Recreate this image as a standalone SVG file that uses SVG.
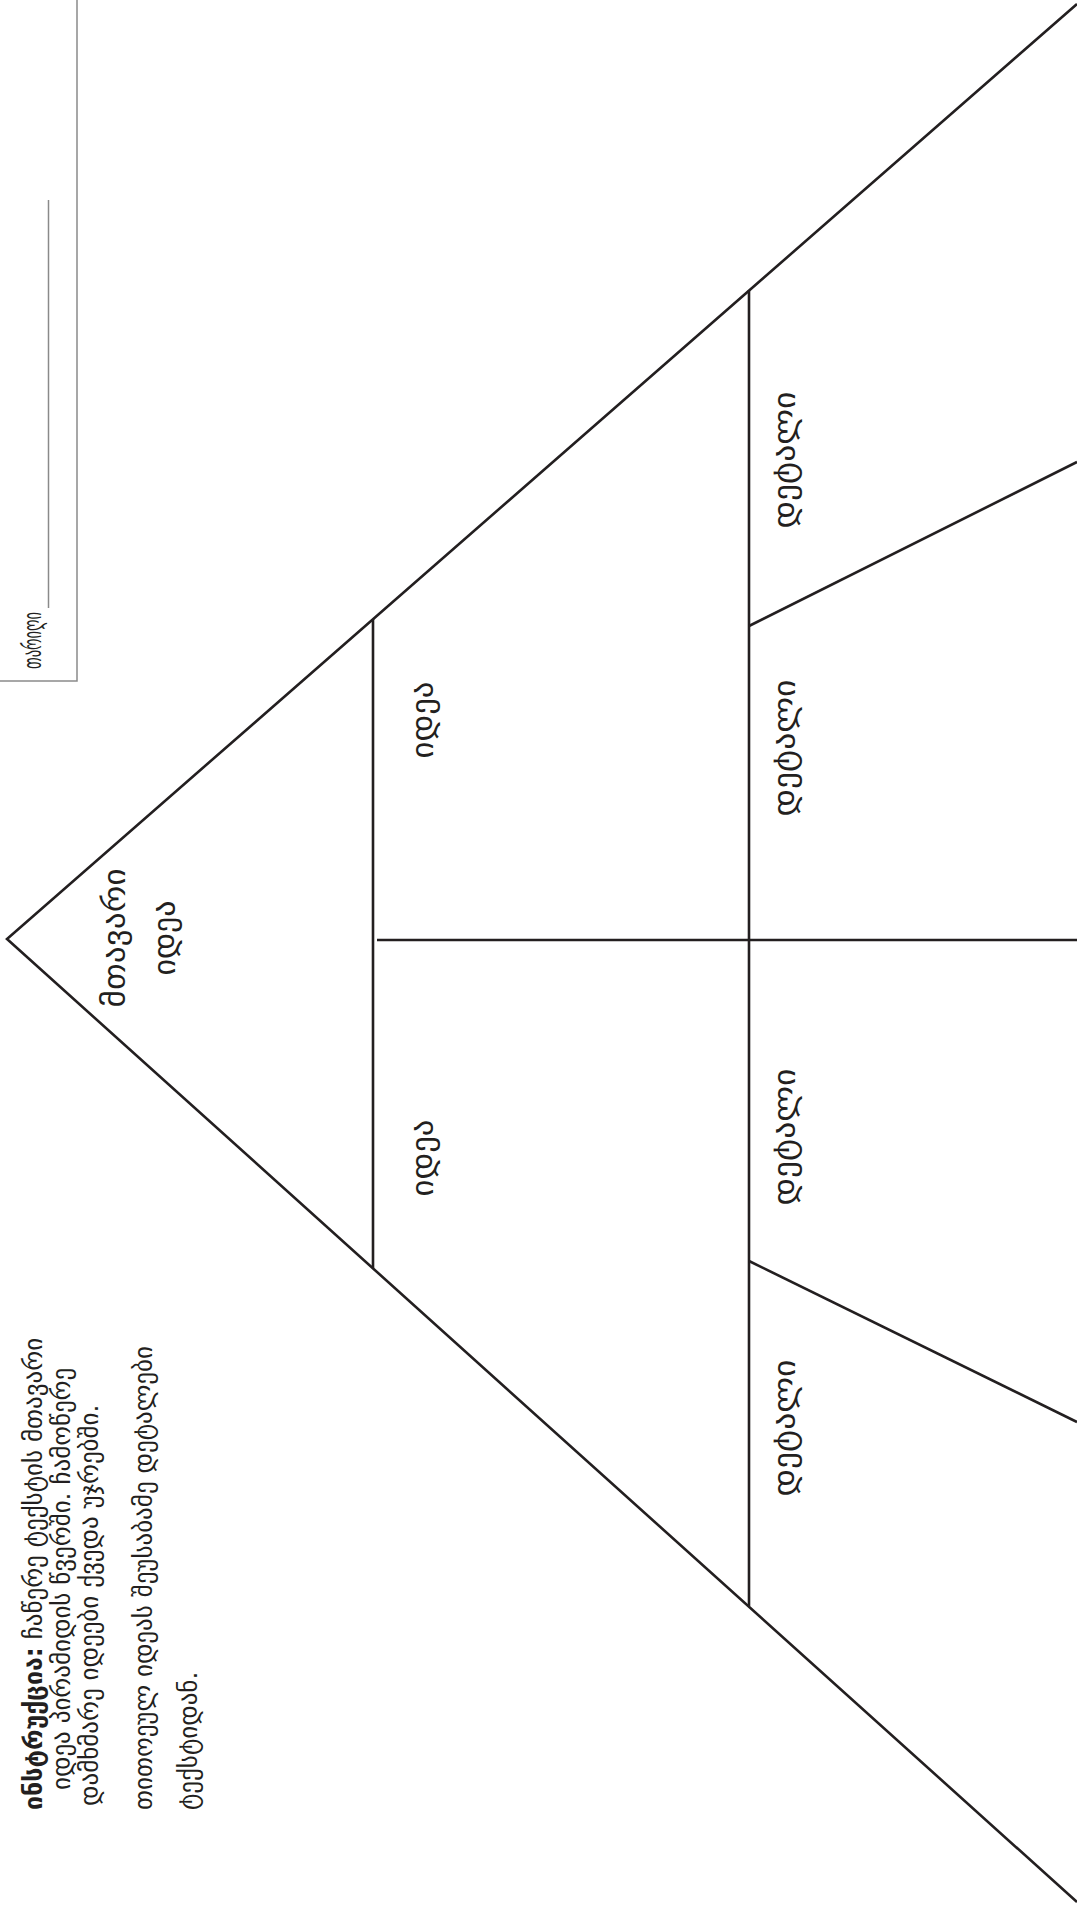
<svg xmlns="http://www.w3.org/2000/svg" width="1077" height="1905" viewBox="0 0 1077 1905">
<style>
.ln{stroke:#231f20;stroke-width:2.6;fill:none}
.box{stroke:#8a8a8a;stroke-width:1.5;fill:none}
.t{font-family:"DejaVu Sans",sans-serif;fill:#231f20}
.lbl{font-size:31px;text-anchor:middle}
.ins{font-size:25px}
</style>
<rect width="1077" height="1905" fill="#ffffff"/>
<g id="date-box">
<path class="box" d="M0,681 H77 V0"/>
<line x1="48.5" y1="200" x2="48.5" y2="608" stroke="#8a8a8a" stroke-width="1.5"/>
<text class="t" font-size="26" textLength="57" lengthAdjust="spacingAndGlyphs" transform="translate(41,669) rotate(-90)">თარიღი</text>
</g>
<g id="instructions" class="t ins">
<text transform="translate(42,1810) rotate(-90)"><tspan font-weight="bold">ინსტრუქცია:</tspan> ჩაწერე ტექსტის მთავარი</text>
<text transform="translate(70,1790) rotate(-90)">იდეა პირამიდის წვერში. ჩამოწერე</text>
<text transform="translate(98,1806) rotate(-90)">დამხმარე იდეები ქვედა უჯრებში.</text>
<text transform="translate(152,1810) rotate(-90)">თითოეულ იდეას შეუსაბამე დეტალები</text>
<text transform="translate(197,1810) rotate(-90)">ტექსტიდან.</text>
</g>
<g id="connectors">
<polyline class="ln" points="1077,4 7,939 1077,1902"/>
<line class="ln" x1="373" y1="619" x2="373" y2="1268"/>
<line class="ln" x1="377" y1="940" x2="1077" y2="940"/>
<line class="ln" x1="749" y1="290" x2="749" y2="1606"/>
<line class="ln" x1="749" y1="626" x2="1077" y2="462"/>
<line class="ln" x1="749" y1="1261" x2="1077" y2="1422"/>
</g>
<g id="main-idea" class="t lbl">
<text transform="translate(125,938) rotate(-90)" textLength="139" lengthAdjust="spacingAndGlyphs">მთავარი</text>
<text transform="translate(175,938) rotate(-90)" textLength="75" lengthAdjust="spacingAndGlyphs">იდეა</text>
</g>
<g id="idea-1" class="t lbl"><text transform="translate(433,720) rotate(-90)" textLength="77" lengthAdjust="spacingAndGlyphs">იდეა</text></g>
<g id="idea-2" class="t lbl"><text transform="translate(433,1158) rotate(-90)" textLength="77" lengthAdjust="spacingAndGlyphs">იდეა</text></g>
<g id="detail-1" class="t lbl"><text transform="translate(795,460) rotate(-90)" textLength="137" lengthAdjust="spacingAndGlyphs">დეტალი</text></g>
<g id="detail-2" class="t lbl"><text transform="translate(795,748) rotate(-90)" textLength="137" lengthAdjust="spacingAndGlyphs">დეტალი</text></g>
<g id="detail-3" class="t lbl"><text transform="translate(795,1137) rotate(-90)" textLength="137" lengthAdjust="spacingAndGlyphs">დეტალი</text></g>
<g id="detail-4" class="t lbl"><text transform="translate(795,1428) rotate(-90)" textLength="137" lengthAdjust="spacingAndGlyphs">დეტალი</text></g>
</svg>
